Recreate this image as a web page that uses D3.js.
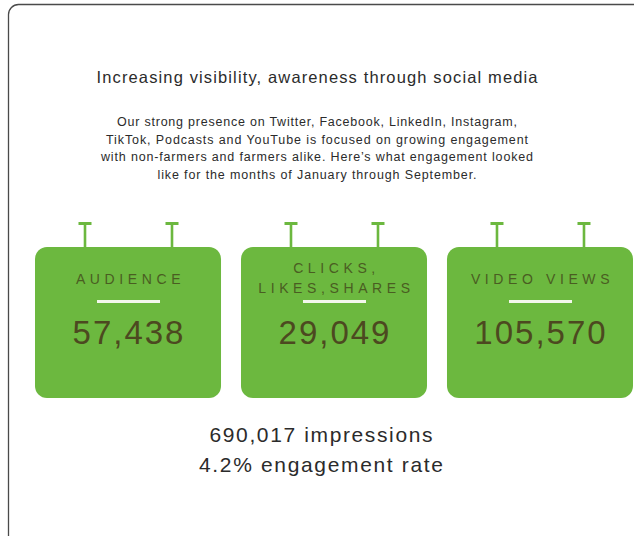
<!DOCTYPE html>
<html>
<head>
<meta charset="utf-8">
<script src="https://cdn.jsdelivr.net/npm/d3@7"></script>
<style>
  html, body { margin: 0; padding: 0; background: #fff; }
  svg { display: block; font-family: "Liberation Sans", Arial, Helvetica, sans-serif; }
</style>
</head>
<body>
<svg id="chart" width="634" height="536"></svg>
<script>
// ---- data ----
const title = "Increasing visibility, awareness through social media";
const paragraph = [
  "Our strong presence on Twitter, Facebook, LinkedIn, Instagram,",
  "TikTok, Podcasts and YouTube is focused on growing engagement",
  "with non-farmers and farmers alike. Here\u2019s what engagement looked",
  "like for the months of January through September."
];
const metricLabels = [["AUDIENCE"], ["CLICKS,", "LIKES,SHARES"], ["VIDEO VIEWS"]];
const metricValues = [57438, 29049, 105570];
const impressions = 690017;
const engagementRate = 4.2;

// ---- layout ----
const svg = d3.select("#chart");
const fmt = d3.format(",");

// outer frame
svg.append("rect")
  .attr("x", 8.5).attr("y", 4.5)
  .attr("width", 660).attr("height", 560)
  .attr("rx", 10).attr("ry", 10)
  .attr("fill", "none").attr("stroke", "#4a4a4a").attr("stroke-width", 1.3);

svg.append("text")
  .attr("x", 317).attr("y", 83)
  .attr("text-anchor", "middle")
  .attr("font-size", 16.5).attr("fill", "#2b2b2b")
  .attr("textLength", 441).attr("lengthAdjust", "spacing")
  .text(title);

const paraWidths = [400, 422, 432, 319];
svg.append("g").selectAll("text").data(paragraph).join("text")
  .attr("x", 317)
  .attr("y", (d, i) => 126 + i * 17.7)
  .attr("text-anchor", "middle")
  .attr("font-size", 12.5).attr("fill", "#2b2b2b")
  .attr("textLength", (d, i) => paraWidths[i]).attr("lengthAdjust", "spacing")
  .text(d => d);

// boxes
const x = d3.scaleBand()
  .domain(d3.range(metricValues.length))
  .range([35, 633])
  .paddingInner(0.097)
  .paddingOuter(0);

const green = "#6cb83f";
const boxTop = 247, boxBottom = 398;
const g = svg.append("g").selectAll("g").data(metricValues).join("g")
  .attr("transform", (d, i) => `translate(${x(i)},0)`);

const bw = x.bandwidth();
// stakes
[50, 137].forEach(off => {
  g.append("rect")
    .attr("x", off - 1.3).attr("y", 223)
    .attr("width", 2.6).attr("height", boxTop - 223 + 2)
    .attr("fill", green);
  g.append("rect")
    .attr("x", off - 6.5).attr("y", 222)
    .attr("width", 13).attr("height", 3)
    .attr("fill", green);
});

g.append("rect")
  .attr("x", 0).attr("y", boxTop)
  .attr("width", bw).attr("height", boxBottom - boxTop)
  .attr("rx", 12).attr("ry", 12)
  .attr("fill", green);

// labels
g.each(function(d, i) {
  const lines = metricLabels[i];
  const baseY = lines.length === 1 ? 284 : 273;
  d3.select(this).selectAll("text.lbl").data(lines).join("text")
    .attr("class", "lbl")
    .attr("x", bw / 2 + 2.5)
    .attr("y", (t, j) => baseY + j * 20)
    .attr("text-anchor", "middle")
    .attr("font-size", 14)
    .attr("letter-spacing", 4.6)
    .attr("fill", "#4a5d22")
    .text(t => t);
});

g.append("rect")
  .attr("x", bw / 2 - 31).attr("y", 300)
  .attr("width", 63).attr("height", 3)
  .attr("fill", "#f3f7ec");

g.append("text")
  .attr("x", bw / 2 + 1)
  .attr("y", 344)
  .attr("text-anchor", "middle")
  .attr("font-size", 33)
  .attr("letter-spacing", 2)
  .attr("fill", "#4c4920")
  .text(d => fmt(d));

// bottom summary
const summary = [`${fmt(impressions)} impressions`, `${engagementRate}% engagement rate`];
const sumWidths = [223, 244];
svg.append("g").selectAll("text").data(summary).join("text")
  .attr("x", 321)
  .attr("y", (d, i) => 442 + i * 30)
  .attr("text-anchor", "middle")
  .attr("font-size", 21).attr("fill", "#2b2b2b")
  .attr("textLength", (d, i) => sumWidths[i]).attr("lengthAdjust", "spacing")
  .text(d => d);
</script>
</body>
</html>
